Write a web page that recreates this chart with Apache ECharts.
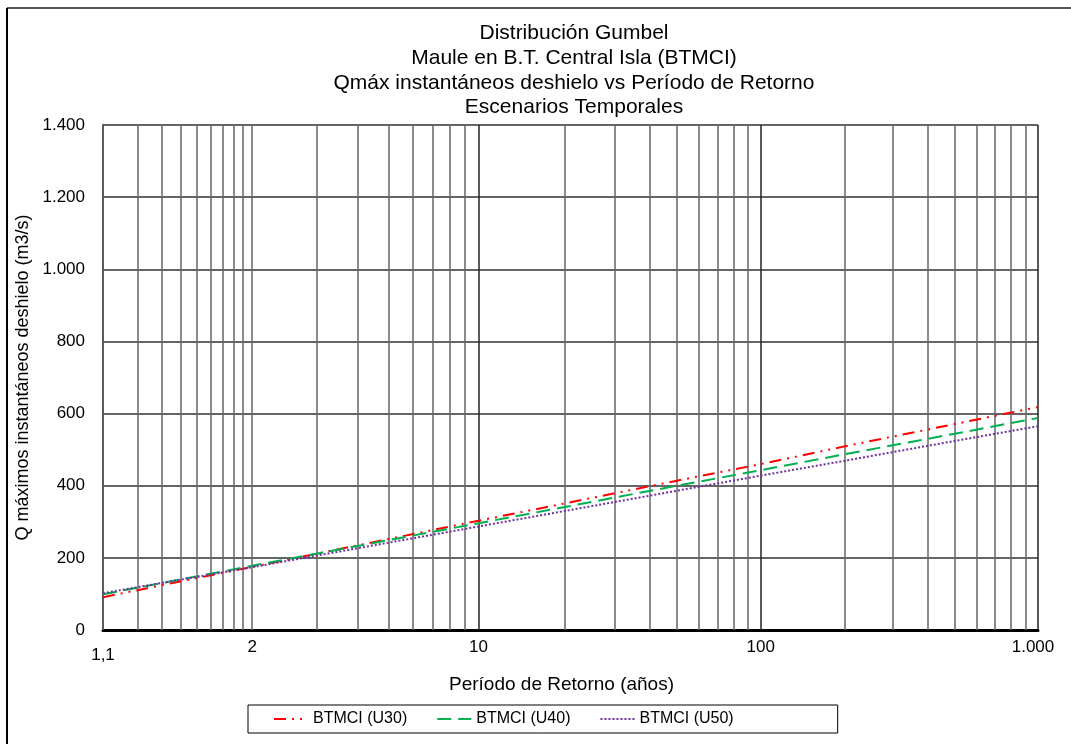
<!DOCTYPE html>
<html>
<head>
<meta charset="utf-8">
<script src="https://cdn.jsdelivr.net/npm/echarts@6/dist/echarts.min.js"></script>
<style>
html,body{margin:0;padding:0;background:#fff;}
#chart{width:1071px;height:744px;}
</style>
</head>
<body>
<div id="chart"></div>
<script>
// Return periods (years) and discharge values (m3/s)
const returnPeriods = [1.1, 2, 5, 10, 20, 50, 100, 200, 500, 1000];
const u30 = [91, 175, 252, 303, 351, 414, 460, 509, 571, 618];
const u40 = [99, 178, 249, 296, 341, 400, 443, 487, 544, 588];
const u50 = [102, 174, 242, 287, 330, 386, 428, 469, 524, 565];
const seriesNames = ['BTMCI (U30)', 'BTMCI (U40)', 'BTMCI (U50)'];

// Gumbel paper grid lines and tick labels
const gridT = [1.1,1.2,1.3,1.4,1.5,1.6,1.7,1.8,1.9,2,3,4,5,6,7,8,9,10,20,30,40,50,60,70,80,90,100,200,300,400,500,600,700,800,900,1000];
const labelT = [1.1, 2, 10, 100, 1000];
const labelText = ['1,1', '2', '10', '100', '1.000'];

// Gumbel reduced variate (probability-paper x scale)
function gv(T) { return -Math.log(-Math.log(1 - 1 / T)); }

const xMin = gv(1.1), xMax = gv(1000);

function pairs(vals) { return returnPeriods.map((T, i) => [gv(T), vals[i]]); }

const font = 'Liberation Sans, Arial, sans-serif';
const majorT = [10, 100, 1000];
const gridLines = gridT.map(T => {
  const li = labelT.indexOf(T);
  const major = majorT.indexOf(T) >= 0;
  return [
    { coord: [gv(T), 0],
      lineStyle: { color: major ? '#222' : '#666', width: 1.5, type: 'solid' },
      label: li >= 0 ? { show: true, position: 'start', formatter: labelText[li],
                         distance: T === 1.1 ? 17 : 9, fontSize: 17, color: '#000',
                         fontFamily: font, offset: T === 1000 ? [-5, 0] : [0, 0] } : { show: false } },
    { coord: [gv(T), 1400] }
  ];
});

const chart = echarts.init(document.getElementById('chart'), null, { renderer: 'canvas' });
chart.setOption({
  animation: false,
  backgroundColor: '#fff',
  title: {
    text: 'Distribución Gumbel\nMaule en B.T. Central Isla (BTMCI)\nQmáx instantáneos deshielo vs Período de Retorno\nEscenarios Temporales',
    left: 569, textAlign: 'center', top: 16,
    textStyle: { fontSize: 21, fontWeight: 'normal', color: '#000', lineHeight: 24.7, fontFamily: font }
  },
  grid: { left: 103, right: 33, top: 125, bottom: 114, containLabel: false },
  legend: {
    left: 248, top: 705,
    data: seriesNames,
    itemWidth: 34, itemHeight: 10, itemGap: 29,
    padding: [6, 104, 6, 25],
    borderColor: '#000', borderWidth: 1,
    itemStyle: { opacity: 0, borderWidth: 0 },
    textStyle: { fontSize: 16, color: '#000', fontFamily: font }
  },
  xAxis: {
    type: 'value', min: xMin, max: xMax,
    name: 'Período de Retorno (años)', nameLocation: 'middle', nameGap: 45,
    nameTextStyle: { fontSize: 19, color: '#000', fontFamily: font, padding: [0, 18, 0, 0] },
    axisLine: { show: true, onZero: false, lineStyle: { color: '#000', width: 3 } },
    axisTick: { show: false },
    axisLabel: { show: false },
    splitLine: { show: false }
  },
  yAxis: {
    type: 'value', min: 0, max: 1400, interval: 200,
    name: 'Q máximos instantáneos deshielo (m3/s)', nameLocation: 'middle', nameGap: 66,
    nameTextStyle: { fontSize: 18, color: '#000', fontFamily: font },
    axisLine: { show: true, onZero: false, lineStyle: { color: '#000', width: 1.5 } },
    axisTick: { show: false },
    axisLabel: {
      fontSize: 17, color: '#000', margin: 18, fontFamily: font,
      formatter: v => String(v).replace(/\B(?=(\d{3})+(?!\d))/g, '.')
    },
    splitLine: { show: true, lineStyle: { color: '#333', width: 1.5 } }
  },
  series: [
    {
      name: seriesNames[0], type: 'line', data: pairs(u30), symbol: 'none', z: 5,
      color: '#FF0000',
      lineStyle: { color: '#FF0000', width: 2, type: [12, 6, 2, 6, 2, 6] },
      markLine: { silent: true, symbol: 'none', z: 1, animation: false, data: gridLines }
    },
    {
      name: seriesNames[1], type: 'line', data: pairs(u40), symbol: 'none', z: 5,
      color: '#00B050',
      lineStyle: { color: '#00B050', width: 2, type: [14, 7] }
    },
    {
      name: seriesNames[2], type: 'line', data: pairs(u50), symbol: 'none', z: 5,
      color: '#7030A0',
      lineStyle: { color: '#7030A0', width: 2, type: [2, 2] }
    }
  ],
  graphic: [
    { type: 'line', shape: { x1: 7, y1: 8, x2: 1071, y2: 8 }, style: { stroke: '#555', lineWidth: 2 } },
    { type: 'line', shape: { x1: 7, y1: 8, x2: 7, y2: 744 }, style: { stroke: '#000', lineWidth: 2 } }
  ]
});
</script>
</body>
</html>
